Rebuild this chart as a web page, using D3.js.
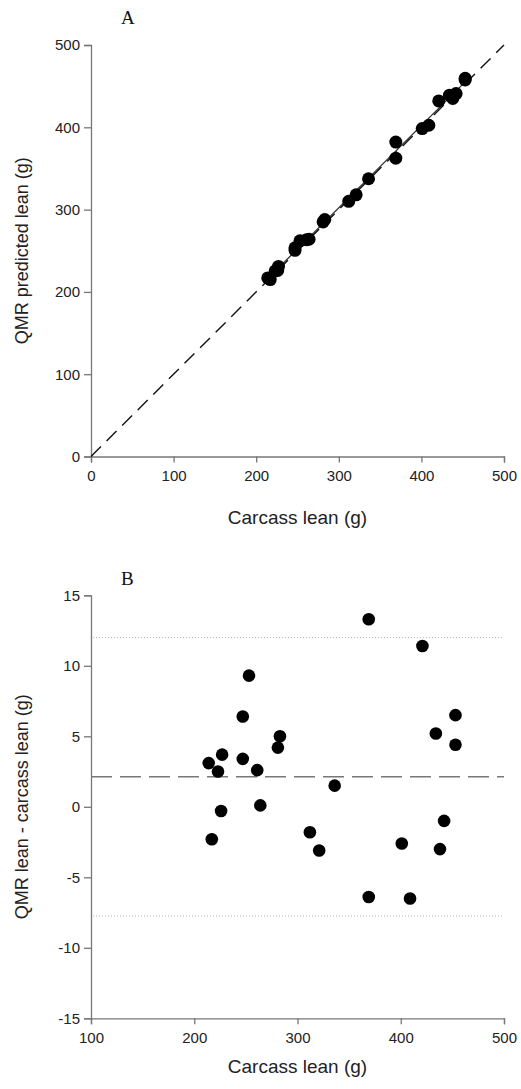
<html>
<head>
    <meta charset="utf-8">
    <script src="https://d3js.org/d3.v7.min.js"></script>
</head>
<style>
    body { margin: 0; background: white; }
    .tick text { font-family: "Liberation Sans", Arial, sans-serif; font-size: 15px; fill: #222; }
    .domain, .tick line { stroke: #777; stroke-width: 1.3px; }
    .title { font-family: "Liberation Sans", Arial, sans-serif; font-size: 18px; fill: #222; }
    .xtitle { font-size: 19px; }
    .panel { font-family: "Liberation Serif", "Times New Roman", serif; font-size: 19px; fill: #111; }
</style>
<body>
    <svg id="chart" width="521" height="1089"></svg>

    <script>
        // carcass lean (g), QMR predicted lean (g) and the difference, one entry per animal
        const carcassLean = [214, 223, 227, 226, 217, 247, 247, 253, 261, 264, 283, 281,
                             336, 312, 321, 369, 369, 409, 421, 401, 434, 453, 453, 442, 438];
        const qmrLean     = [217, 225.5, 231, 226, 215, 253.5, 250.5, 262, 263.5, 264, 288, 285,
                             337.5, 310, 318, 382, 362.5, 402.5, 432, 398.5, 439, 459.5, 457.5, 441, 435];
        const leanDiff    = [3.1, 2.5, 3.7, -0.3, -2.3, 6.4, 3.4, 9.3, 2.6, 0.1, 5.0, 4.2,
                             1.5, -1.8, -3.1, 13.3, -6.4, -6.5, 11.4, -2.6, 5.2, 6.5, 4.4, -1.0, -3.0];

        // regression line of panel A, and mean / limits of agreement for panel B
        const fitRange = [214, 453];
        const fitIntercept = 2.2, fitSlope = 1.0;
        const meanDiff = 2.13, upperLimit = 12.0, lowerLimit = -7.75;

        const ticksA = [0, 100, 200, 300, 400, 500];
        const ticksBx = [100, 200, 300, 400, 500];
        const ticksBy = [-15, -10, -5, 0, 5, 10, 15];
        const plain = d => String(d);   // hyphen minus, as in the original

        const svg = d3.select('svg#chart');

        // ---- panel A
        const xA = d3.scaleLinear().domain([0, 500]).range([91, 504]);
        const yA = d3.scaleLinear().domain([0, 500]).range([456.5, 45]);
        const gA = svg.append("g");

        gA.append("g").attr("transform", "translate(0," + yA(0) + ")")
          .call(d3.axisBottom(xA).tickValues(ticksA).tickFormat(plain).tickSizeOuter(0).tickSize(6).tickPadding(8));
        gA.append("g").attr("transform", "translate(" + xA(0) + ",0)")
          .call(d3.axisLeft(yA).tickValues(ticksA).tickFormat(plain).tickSizeOuter(0).tickSize(7).tickPadding(4));

        gA.append("line")
          .attr("x1", xA(0)).attr("y1", yA(0)).attr("x2", xA(500)).attr("y2", yA(500))
          .attr("stroke", "#111").attr("stroke-width", 1.4).attr("stroke-dasharray", "14,8");

        gA.append("line")
          .attr("x1", xA(fitRange[0])).attr("y1", yA(fitIntercept + fitSlope * fitRange[0]))
          .attr("x2", xA(fitRange[1])).attr("y2", yA(fitIntercept + fitSlope * fitRange[1]))
          .attr("stroke", "#333").attr("stroke-width", 1.3);

        gA.selectAll("circle").data(d3.range(carcassLean.length)).join("circle")
          .attr("cx", i => xA(carcassLean[i]))
          .attr("cy", i => yA(qmrLean[i]))
          .attr("r", 6.5).attr("fill", "#000");

        gA.append("text").attr("class", "panel").attr("x", 121).attr("y", 24).text("A");
        gA.append("text").attr("class", "title xtitle").attr("text-anchor", "middle")
          .attr("x", (xA(0) + xA(500)) / 2).attr("y", 524).text("Carcass lean (g)");
        gA.append("text").attr("class", "title").attr("text-anchor", "middle")
          .attr("transform", "translate(28," + yA(250) + ") rotate(-90)").text("QMR predicted lean (g)");

        // ---- panel B
        const xB = d3.scaleLinear().domain([100, 500]).range([91, 504]);
        const yB = d3.scaleLinear().domain([-15, 15]).range([1018.3, 595.3]);
        const gB = svg.append("g");

        gB.append("g").attr("transform", "translate(0," + yB(-15) + ")")
          .call(d3.axisBottom(xB).tickValues(ticksBx).tickFormat(plain).tickSizeOuter(0).tickSize(6).tickPadding(8));
        gB.append("g").attr("transform", "translate(" + xB(100) + ",0)")
          .call(d3.axisLeft(yB).tickValues(ticksBy).tickFormat(plain).tickSizeOuter(0).tickSize(7).tickPadding(4));

        [upperLimit, lowerLimit].forEach(v => {
            gB.append("line")
              .attr("x1", xB(100) + 2).attr("x2", xB(500)).attr("y1", yB(v)).attr("y2", yB(v))
              .attr("stroke", "#bbb").attr("stroke-width", 1).attr("stroke-dasharray", "1,2");
        });
        gB.append("line")
          .attr("x1", xB(100)).attr("x2", xB(500)).attr("y1", yB(meanDiff)).attr("y2", yB(meanDiff))
          .attr("stroke", "#777").attr("stroke-width", 1.5).attr("stroke-dasharray", "21,8");

        gB.selectAll("circle").data(d3.range(carcassLean.length)).join("circle")
          .attr("cx", i => xB(carcassLean[i]))
          .attr("cy", i => yB(leanDiff[i]))
          .attr("r", 6.3).attr("fill", "#000");

        gB.append("text").attr("class", "panel").attr("x", 121).attr("y", 585).text("B");
        gB.append("text").attr("class", "title xtitle").attr("text-anchor", "middle")
          .attr("x", (xB(100) + xB(500)) / 2).attr("y", 1073).text("Carcass lean (g)");
        gB.append("text").attr("class", "title").attr("text-anchor", "middle")
          .attr("transform", "translate(28," + yB(0) + ") rotate(-90)").text("QMR lean - carcass lean (g)");
    </script>
</body>
</html>
